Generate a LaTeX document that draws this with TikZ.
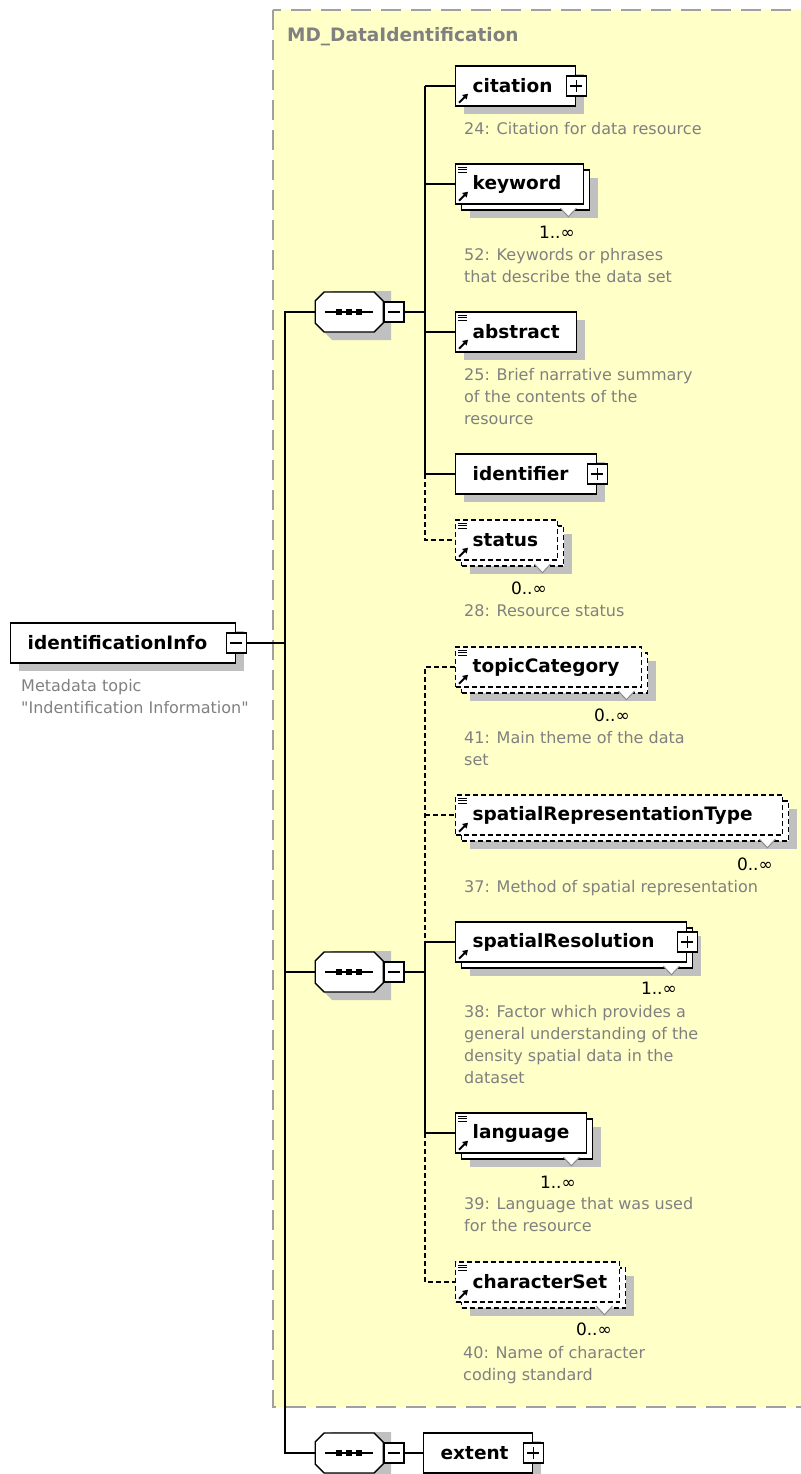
\documentclass[tikz,border=0pt]{standalone}
\usepackage{fontspec}
\setmainfont{DejaVu Sans}[Ligatures=TeXOff]
\usetikzlibrary{shadows,arrows.meta}
\hyphenpenalty=10000
\definecolor{groupfill}{RGB}{255,255,200}
\definecolor{groupline}{RGB}{160,160,160}
\definecolor{titlegray}{RGB}{128,128,128}
\definecolor{descgray}{RGB}{128,128,128}
\definecolor{shadowgray}{RGB}{192,192,192}
\newcommand\namefont{\fontsize{18.5}{22}\selectfont\bfseries}
\newcommand\descfont{\fontsize{16}{22}\selectfont}
\newcommand\multfont{\fontsize{17}{20}\selectfont}
\tikzset{
  conn/.style={line width=1.4pt},
  optconn/.style={line width=1.4pt, dash pattern=on 5pt off 3pt},
  groupbox/.style={fill=groupfill, draw=groupline, line width=2pt, dash pattern=on 20pt off 10pt},
  grouptitle/.style={anchor=west, inner sep=0pt, font=\namefont, text=titlegray},
  elembox/.style={draw, fill=white, line width=1.4pt, anchor=west, minimum height=40pt,
    inner xsep=17pt, inner ysep=0pt, text width=#1, align=left, font=\namefont},
  elem/.style={elembox=#1,
    general shadow={draw=none, fill=shadowgray, shadow xshift=8pt, shadow yshift=-8pt}},
  repelem/.style={elembox=#1,
    general shadow={draw=none, fill=shadowgray, shadow xshift=14pt, shadow yshift=-14pt},
    copy shadow={shadow xshift=6pt, shadow yshift=-6pt}},
  optional/.style={dash pattern=on 5pt off 3pt},
  seq/.style={minimum width=68pt, minimum height=40pt, inner sep=0pt, anchor=west},
  togbox/.style={draw, fill=white, line width=1.2pt, minimum size=20pt, inner sep=0pt},
  minustog/.style={togbox, path picture={\draw[line width=1.2pt]
    ([xshift=-6pt]path picture bounding box.center) -- ([xshift=6pt]path picture bounding box.center);}},
  plustog/.style={togbox, path picture={\draw[line width=1.2pt]
    ([xshift=-6pt]path picture bounding box.center) -- ([xshift=6pt]path picture bounding box.center)
    ([yshift=-6pt]path picture bounding box.center) -- ([yshift=6pt]path picture bounding box.center);}},
  desc/.style={anchor=north west, inner sep=0pt, align=left, font=\descfont, text=descgray},
  mult/.style={anchor=east, inner sep=0pt, font=\multfont},
  docicon/.pic={\foreach \k in {4,6.5,9} \draw[line width=0.9pt] (3,\k) -- (12,\k);},
  refarrow/.pic={\draw[line width=2pt, -{Triangle[length=5pt,width=6pt]}] (4,-4) -- (13,-13);},
  occurs/.pic={\fill[white] (-8,3.5) -- (8,3.5) -- (0,12) -- cycle;
    \draw[black!45, line width=1pt] (-8,3.5) -- (0,12) -- (8,3.5);},
  seqshape/.pic={
    \fill[shadowgray] (-26,-12) -- (-17,-21) -- (42,-21) -- (42,28) -- (-17,28) -- (-26,19) -- cycle;
    \filldraw[fill=white, line width=1.4pt] (-34,-11) -- (-25,-20) -- (25,-20) -- (34,-11)
      -- (34,11) -- (25,20) -- (-25,20) -- (-34,11) -- cycle;
    \draw[line width=1.4pt] (-24,0) -- (24,0);
    \foreach \d in {-10,0,10} \fill (\d-3,-3) rectangle ++(6,6);}
}
\begin{document}
\begin{tikzpicture}[x=1pt,y=-1pt]
\useasboundingbox (0,0) rectangle (800,1474);
\draw[groupbox] (273,10) rectangle (830,1407);
\node[grouptitle] (mdtitle) at (287,37) {MD\_DataIdentification};

% root element
\node[elem=191pt] (idinfo) at (10,643) {identificationInfo};
\node[minustog] (togidinfo) at (idinfo.east) {};
\node[desc] (idinfodoc) at (21,679) {Metadata topic\\"Indentification Information"};

% sequences
\node[seq] (seqA) at (315,312) {};
\node[seq] (seqB) at (315,972) {};
\node[seq] (seqC) at (315,1453) {};
\foreach \s in {seqA,seqB,seqC} {
  \pic at (\s.center) {seqshape};
  \node[minustog, anchor=west] (tog\s) at (\s.east) {};
}

% first sequence
\node[elem=86pt] (cit) at (455,86) {citation};
\node[repelem=94pt] (kw) at (455,184) {keyword};
\node[elem=87pt] (abs) at (455,332) {abstract};
\node[elem=107pt] (ident) at (455,474) {identifier};
\node[repelem=68pt, optional] (stat) at (455,540) {status};

% second sequence
\node[repelem=152pt, optional] (topic) at (455,667) {topicCategory};
\node[repelem=293pt, optional] (srep) at (455,815) {spatialRepresentationType};
\node[repelem=197pt] (sres) at (455,942) {spatialResolution};
\node[repelem=97pt] (lang) at (455,1133) {language};
\node[repelem=130pt, optional] (cset) at (455,1282) {characterSet};

% third sequence
\node[elem=75pt] (ext) at (423,1453) {extent};

\foreach \n in {cit,ident,sres,ext} \node[plustog] (tog\n) at (\n.east) {};
\foreach \n in {kw,abs,stat,topic,srep,lang,cset} \pic at (\n.north west) {docicon};
\foreach \n in {cit,kw,abs,stat,topic,srep,sres,lang,cset} \pic at (\n.south west) {refarrow};
\foreach \n in {kw,stat,topic,srep,sres,lang,cset} \pic at ([xshift=-16pt]\n.south east) {occurs};

% occurrences
\node[mult] (kwocc) at (575,232) {1..∞};
\node[mult] (statocc) at (547,588) {0..∞};
\node[mult] (topicocc) at (630,715) {0..∞};
\node[mult] (srepocc) at (773,864) {0..∞};
\node[mult] (sresocc) at (677,988) {1..∞};
\node[mult] (langocc) at (576,1182) {1..∞};
\node[mult] (csetocc) at (612,1329) {0..∞};

% annotations
\node[desc] (citdoc) at (464,122) {24: Citation for data resource};
\node[desc] (kwdoc) at (464,248) {52: Keywords or phrases\\that describe the data set};
\node[desc] (absdoc) at (464,368) {25: Brief narrative summary\\of the contents of the\\resource};
\node[desc] (statdoc) at (464,604) {28: Resource status};
\node[desc] (topicdoc) at (464,731) {41: Main theme of the data\\set};
\node[desc] (srepdoc) at (464,880) {37: Method of spatial representation};
\node[desc] (sresdoc) at (464,1005) {38: Factor which provides a\\general understanding of the\\density spatial data in the\\dataset};
\node[desc] (langdoc) at (464,1197) {39: Language that was used\\for the resource};
\node[desc] (csetdoc) at (463,1346) {40: Name of character\\coding standard};

% connectors
\coordinate (trunk) at (285,643);
\coordinate (brA) at (425,312);
\coordinate (brB) at (425,972);
\draw[conn] (togidinfo.east) -- (trunk);
\draw[conn] (seqA.west) -| (trunk) |- (seqC.west);
\draw[conn] (trunk |- seqB.west) -- (seqB.west);
\draw[conn] (togseqA.east) -- (brA);
\draw[conn] (brA |- cit.west) -- (brA |- ident.west);
\foreach \n in {cit,kw,abs,ident} \draw[conn] (brA |- \n.west) -- (\n.west);
\draw[optconn] (brA |- ident.west) |- (stat.west);
\draw[conn] (togseqB.east) -- (brB);
\draw[optconn] (topic.west) -| (brB |- sres.west);
\draw[optconn] (brB |- srep.west) -- (srep.west);
\draw[conn] (brB |- sres.west) -- (brB |- lang.west);
\foreach \n in {sres,lang} \draw[conn] (brB |- \n.west) -- (\n.west);
\draw[optconn] (brB |- lang.west) |- (cset.west);
\draw[conn] (togseqC.east) -- (ext.west);
\end{tikzpicture}
\end{document}
